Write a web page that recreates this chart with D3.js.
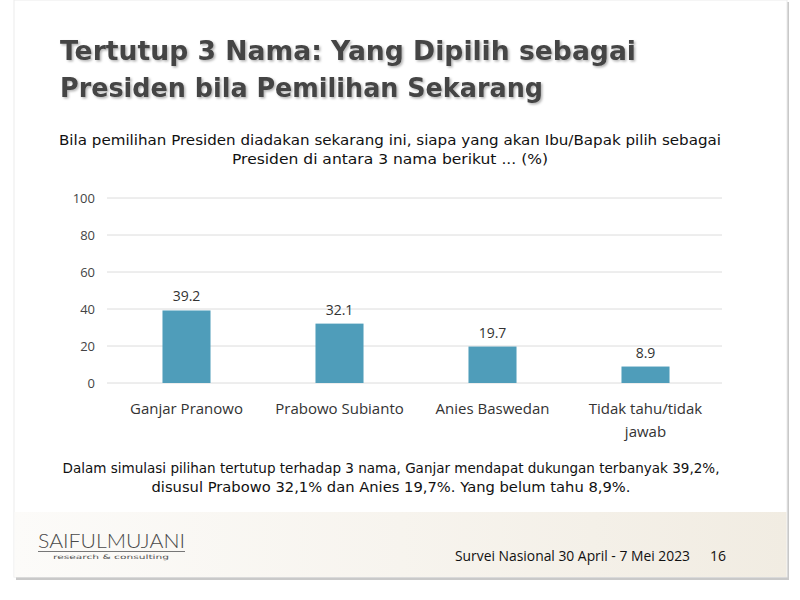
<!DOCTYPE html>
<html lang="id">
<head>
<meta charset="UTF-8">
<title>Tertutup 3 Nama</title>
<script src="https://d3js.org/d3.v7.min.js"></script>
<style>
  body { margin: 0; background: #fff; }
  svg { display: block; }
</style>
</head>
<body>
<svg id="slide"></svg>
<script>
// data
const categories = ["Ganjar Pranowo", "Prabowo Subianto", "Anies Baswedan", "Tidak tahu/tidak jawab"];
const values = [39.2, 32.1, 19.7, 8.9];
const yTicks = [0, 20, 40, 60, 80, 100];
// label lines (the last category wraps onto two lines)
const categoryLines = [["Ganjar Pranowo"], ["Prabowo Subianto"], ["Anies Baswedan"], ["Tidak tahu/tidak", "jawab"]];

const titleLines = ["Tertutup 3 Nama: Yang Dipilih sebagai", "Presiden bila Pemilihan Sekarang"];
const questionLines = [
  "Bila pemilihan Presiden diadakan sekarang ini, siapa yang akan Ibu/Bapak pilih sebagai",
  "Presiden di antara 3 nama berikut ... (%)"
];
const noteLines = [
  "Dalam simulasi pilihan tertutup terhadap 3 nama, Ganjar mendapat dukungan terbanyak 39,2%,",
  "disusul Prabowo 32,1% dan Anies 19,7%. Yang belum tahu 8,9%."
];

const W = 800, H = 600;
const svg = d3.select("#slide").attr("width", W).attr("height", H);
const defs = svg.append("defs");

defs.append("filter").attr("id", "shadow")
  .attr("x", "-5%").attr("y", "-20%").attr("width", "110%").attr("height", "140%")
  .append("feDropShadow")
  .attr("dx", 1.5).attr("dy", 1.5).attr("stdDeviation", 0.8)
  .attr("flood-color", "#000").attr("flood-opacity", 0.3);

const band = defs.append("linearGradient").attr("id", "band")
  .attr("x1", "0%").attr("x2", "100%").attr("y1", "0%").attr("y2", "0%");
band.append("stop").attr("offset", "0%").attr("stop-color", "#fcfbf9");
band.append("stop").attr("offset", "50%").attr("stop-color", "#f7f4ee");
band.append("stop").attr("offset", "100%").attr("stop-color", "#f1ece2");

// slide frame with soft shadow
svg.append("rect").attr("x", 16).attr("y", 2).attr("width", 773).attr("height", 578).attr("fill", "#c9c9c9");
svg.append("rect").attr("x", 14).attr("y", 0).attr("width", 773).attr("height", 577).attr("fill", "#fff")
  .attr("stroke", "#ececec").attr("stroke-width", 1);

// beige footer band
svg.append("rect").attr("x", 14.5).attr("y", 512).attr("width", 772).attr("height", 65).attr("fill", "url(#band)");

function fitText(sel, width) {
  sel.each(function () {
    if (this.getComputedTextLength() > 0) {
      d3.select(this).attr("textLength", width).attr("lengthAdjust", "spacingAndGlyphs");
    }
  });
}

// title
const title = svg.append("g").attr("filter", "url(#shadow)");
title.selectAll("text").data(titleLines).join("text")
  .attr("x", 60).attr("y", (d, i) => 60 + i * 37)
  .attr("font-family", "DejaVu Sans, sans-serif").attr("font-weight", "bold")
  .attr("font-size", 27).attr("fill", "#444")
  .text(d => d)
  .each(function (d, i) { fitText(d3.select(this), i === 0 ? 576 : 483); });

// question
svg.selectAll("text.q").data(questionLines).join("text").attr("class", "q")
  .attr("x", 390).attr("y", (d, i) => 145 + i * 19)
  .attr("text-anchor", "middle")
  .attr("font-family", "DejaVu Sans, sans-serif").attr("font-size", 14).attr("fill", "#111")
  .text(d => d)
  .each(function (d, i) { fitText(d3.select(this), i === 0 ? 662 : 316); });

// chart
const x = d3.scaleBand().domain(categories).range([110, 722])
  .paddingInner(0.686).paddingOuter(0.343);
const y = d3.scaleLinear().domain([0, 100]).range([383, 198]);

const grid = svg.append("g");
grid.selectAll("line").data(yTicks).join("line")
  .attr("x1", 107).attr("x2", 722)
  .attr("y1", d => y(d)).attr("y2", d => y(d))
  .attr("stroke", "#dcdcdc").attr("stroke-width", 1);

const yAxis = svg.append("g").attr("transform", "translate(100,0)")
  .call(d3.axisLeft(y).tickValues(yTicks).tickSize(0).tickPadding(5));
yAxis.select(".domain").remove();
yAxis.selectAll("text")
  .attr("font-family", "Open Sans, DejaVu Sans, sans-serif").attr("font-size", 13).attr("fill", "#444");

svg.append("g").selectAll("rect").data(values).join("rect")
  .attr("x", (d, i) => x(categories[i]))
  .attr("y", d => y(d))
  .attr("width", x.bandwidth())
  .attr("height", d => y(0) - y(d))
  .attr("fill", "#4f9dba");

svg.append("g").selectAll("text").data(values).join("text")
  .attr("x", (d, i) => x(categories[i]) + x.bandwidth() / 2)
  .attr("y", d => y(d) - 9)
  .attr("text-anchor", "middle")
  .attr("font-family", "Open Sans, DejaVu Sans, sans-serif").attr("font-size", 14).attr("fill", "#333")
  .text(d => d.toFixed(1));

const catLabels = svg.append("g").selectAll("text").data(categoryLines).join("text")
  .attr("x", (d, i) => x(categories[i]) + x.bandwidth() / 2)
  .attr("y", 414)
  .attr("text-anchor", "middle")
  .attr("font-family", "Open Sans, DejaVu Sans, sans-serif").attr("font-size", 15).attr("fill", "#333");
catLabels.selectAll("tspan").data(d => d).join("tspan")
  .attr("x", function () { return d3.select(this.parentNode).attr("x"); })
  .attr("dy", (d, i) => i === 0 ? 0 : 23)
  .text(d => d);

// note
svg.selectAll("text.n").data(noteLines).join("text").attr("class", "n")
  .attr("x", 391).attr("y", (d, i) => 473 + i * 19)
  .attr("text-anchor", "middle")
  .attr("font-family", "DejaVu Sans, sans-serif").attr("font-size", 14).attr("fill", "#111")
  .text(d => d)
  .each(function (d, i) { fitText(d3.select(this), i === 0 ? 657 : 479); });

// footer
svg.append("text").attr("x", 38).attr("y", 548)
  .attr("font-family", "Lato, sans-serif").attr("font-weight", 300).attr("font-size", 20)
  .attr("fill", "#4a4a4a").text("SAIFULMUJANI")
  .call(fitText, 147);
svg.append("line").attr("x1", 38).attr("x2", 185).attr("y1", 551.5).attr("y2", 551.5)
  .attr("stroke", "#777").attr("stroke-width", 1);
svg.append("text").attr("x", 111).attr("y", 559)
  .attr("text-anchor", "middle")
  .attr("font-family", "DejaVu Sans, sans-serif").attr("font-size", 6).attr("fill", "#555")
  .text("research & consulting")
  .call(fitText, 116);

svg.append("text").attr("x", 455).attr("y", 561)
  .attr("font-family", "Open Sans, DejaVu Sans, sans-serif").attr("font-size", 14).attr("fill", "#111")
  .text("Survei Nasional 30 April - 7 Mei 2023")
  .call(fitText, 235);
svg.append("text").attr("x", 710).attr("y", 561)
  .attr("font-family", "Open Sans, DejaVu Sans, sans-serif").attr("font-size", 14).attr("fill", "#111")
  .text("16");
</script>
</body>
</html>
